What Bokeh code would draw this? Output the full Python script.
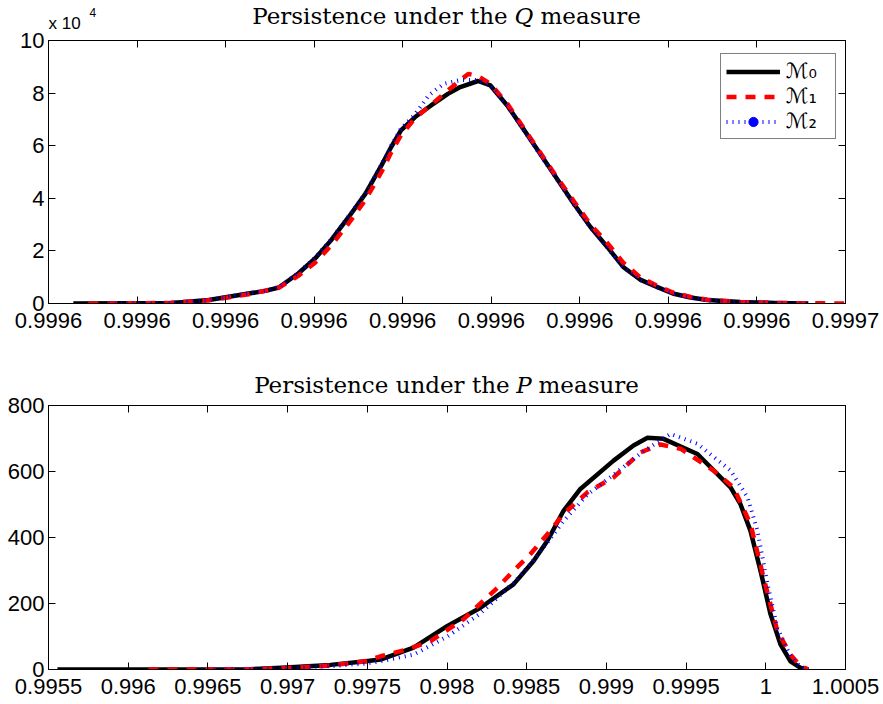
from bokeh.plotting import figure
from bokeh.models import (Range1d, FixedTicker, LinearAxis, Legend,
                          LegendItem, ColumnDataSource)
from bokeh.core.properties import value
from bokeh.layouts import column
from bokeh.embed import file_html
from bokeh.resources import INLINE

# ---------------- data: persistence under Q (counts) ----------------
q_xticks = [0.99956, 0.99957, 0.99958, 0.99959, 0.9996, 0.99961, 0.99962,
            0.99963, 0.99964, 0.99965]
q_xlabels = ["0.9996"] * 9 + ["0.9997"]
q_yticks = [0, 20000, 40000, 60000, 80000, 100000]
q_ylabels = ["0", "2", "4", "6", "8", "10"]

q_m0_x = [0.9995628, 0.9995738, 0.999575, 0.9995781, 0.9995826, 0.9995845,
          0.999586, 0.9995882, 0.9995901, 0.9995919, 0.9995939, 0.9995958,
          0.9995976, 0.9995987, 0.9995998, 0.9996014, 0.9996032, 0.9996051,
          0.9996065, 0.9996085, 0.9996099, 0.9996118, 0.9996136, 0.9996155,
          0.9996174, 0.9996193, 0.9996212, 0.9996231, 0.9996249, 0.9996268,
          0.9996287, 0.9996305, 0.9996325, 0.9996344, 0.9996381, 0.999642,
          0.9996458]
q_m0_y = [0, 150, 500, 1300, 3800, 4800, 6100, 11400, 17100, 24000, 32900,
          41800, 52500, 59500, 65800, 70900, 75300, 79700, 82300, 84600,
          82900, 75300, 66500, 57000, 47500, 38000, 29100, 21500, 13900,
          9100, 6300, 3800, 2300, 1300, 600, 200, 0]

q_m1_x = [0.9995645, 0.9995738, 0.9995781, 0.9995826, 0.999586, 0.9995882,
          0.9995901, 0.9995919, 0.9995939, 0.9995958, 0.9995976, 0.9995987,
          0.9995998, 0.9996014, 0.9996032, 0.9996051, 0.9996074, 0.9996085,
          0.9996099, 0.9996118, 0.9996136, 0.9996155, 0.9996174, 0.9996193,
          0.9996212, 0.9996231, 0.9996249, 0.9996268, 0.9996287, 0.9996305,
          0.9996325, 0.9996344, 0.9996381, 0.999642, 0.99965]
q_m1_y = [0, 200, 1200, 3500, 6000, 10500, 15500, 22000, 30500, 39500,
          50000, 57500, 64000, 70500, 75500, 81000, 87300, 86500, 83500,
          76000, 67000, 57500, 48000, 39000, 30000, 23000, 15500, 10000,
          6800, 4200, 2500, 1400, 600, 200, 0]

q_m2_x = [0.9995668, 0.9995738, 0.9995781, 0.9995826, 0.9995845, 0.999586,
          0.9995882, 0.9995901, 0.9995919, 0.9995939, 0.9995958, 0.9995976,
          0.9995987, 0.9995998, 0.9996014, 0.9996029, 0.9996046, 0.9996065,
          0.9996085, 0.9996099, 0.9996118, 0.9996136, 0.9996155, 0.9996174,
          0.9996193, 0.9996212, 0.9996231, 0.9996249, 0.9996268, 0.9996287,
          0.9996305, 0.9996325, 0.9996344, 0.9996381, 0.999642, 0.9996458]
q_m2_y = [0, 200, 1300, 3900, 4900, 6200, 11600, 17400, 24300, 33200, 42000,
          52800, 60000, 66500, 72000, 79000, 83500, 85000, 85000, 83000,
          75300, 66300, 56700, 47200, 37700, 28900, 21300, 13800, 9000,
          6200, 3700, 2200, 1200, 500, 200, 0]

# ---------------- data: persistence under P (counts) ----------------
p_xticks = [0.9955, 0.996, 0.9965, 0.997, 0.9975, 0.998, 0.9985, 0.999,
            0.9995, 1.0, 1.0005]
p_xlabels = ["0.9955", "0.996", "0.9965", "0.997", "0.9975", "0.998",
             "0.9985", "0.999", "0.9995", "1", "1.0005"]
p_yticks = [0, 200, 400, 600, 800]
p_ylabels = ["0", "200", "400", "600", "800"]

p_m0_x = [0.995556, 0.99614, 0.99645, 0.996767, 0.996962, 0.997269,
          0.997489, 0.997583, 0.99779, 0.998003, 0.99821, 0.998417, 0.998543,
          0.99863, 0.998731, 0.998837, 0.999045, 0.99917, 0.999258, 0.999358,
          0.999571, 0.999779, 0.999841, 0.999904, 0.999967, 1.00003,
          1.000092, 1.000155, 1.000218, 1.000268]
p_m0_y = [0, 0, 0, 1, 5, 14, 25, 30, 66, 132, 187, 258, 329, 390, 481, 547,
          633, 679, 702, 699, 653, 552, 501, 420, 299, 167, 76, 25, 5, 0]

p_m1_x = [0.996127, 0.996767, 0.996962, 0.997269, 0.997489, 0.997583,
          0.997758, 0.997897, 0.998103, 0.998317, 0.998417, 0.998524,
          0.99863, 0.998731, 0.998881, 0.999045, 0.999214, 0.999339,
          0.999465, 0.999672, 0.999797, 0.999904, 0.999986, 1.000073,
          1.000155, 1.000218, 1.000268]
p_m1_y = [0, 1, 4, 12, 25, 40, 62, 86, 152, 248, 299, 350, 410, 471, 537,
          582, 658, 682, 669, 603, 552, 441, 278, 116, 45, 10, 0]

p_m2_x = [0.99646, 0.996962, 0.997269, 0.997489, 0.997583, 0.99779,
          0.998003, 0.99821, 0.998417, 0.998524, 0.99863, 0.998731, 0.998881,
          0.999045, 0.999214, 0.999402, 0.999571, 0.999779, 0.999885,
          0.999948, 1.00001, 1.000073, 1.000155, 1.000218, 1.000268]
p_m2_y = [0, 3, 10, 18, 25, 45, 100, 170, 262, 320, 385, 450, 530, 590, 655,
          714, 684, 603, 522, 420, 260, 125, 40, 8, 0]

legend_labels = ["\u2133\u2080", "\u2133\u2081", "\u2133\u2082"]
title_left = "Persistence under the"
title_right = "measure"
q_letter = "Q"
p_letter = "P"
exp_base = "x 10"
exp_power = "4"

TICK_FONT = "Liberation Sans"
TICK_SIZE = "22px"
TITLE_FONT = "DejaVu Serif"
TITLE_PX = 23
FRAME_W = 797
B_LEFT = 48
B_RIGHT = 36
TOTAL_W = B_LEFT + FRAME_W + B_RIGHT   # 881
B_TOP = 8


def style_axis(ax, ticks, labels, show_labels, standoff=5):
    ax.ticker = FixedTicker(ticks=ticks, minor_ticks=[])
    ax.major_label_overrides = dict(zip(ticks, labels))
    ax.major_tick_in = 7
    ax.major_tick_out = 0
    ax.minor_tick_line_color = None
    ax.axis_line_color = "black"
    ax.axis_line_width = 1
    ax.major_tick_line_color = "black"
    ax.major_tick_line_width = 1
    ax.major_label_text_font = TICK_FONT
    if show_labels:
        ax.major_label_text_color = "black"
        ax.major_label_text_font_size = TICK_SIZE
        ax.major_label_standoff = standoff
    else:
        ax.major_label_text_color = None
        ax.major_label_text_font_size = "1px"
        ax.major_label_standoff = 0


def make_fig(frame_h, b_bottom, xr, yr, xt, xl, yt, yl):
    p = figure(width=TOTAL_W, height=B_TOP + frame_h + b_bottom, title=None,
               min_border_left=B_LEFT, min_border_right=B_RIGHT,
               min_border_top=B_TOP, min_border_bottom=b_bottom,
               x_range=Range1d(*xr), y_range=Range1d(*yr),
               x_axis_type=None, y_axis_type=None,
               output_backend="svg", toolbar_location=None)
    p.background_fill_color = "white"
    p.border_fill_color = "white"
    p.outline_line_color = "black"
    for side, ticks, labels, show, so in (("below", xt, xl, True, 9),
                                          ("above", xt, xl, False, 0)):
        ax = LinearAxis()
        style_axis(ax, ticks, labels, show, so)
        p.add_layout(ax, side)
    for side, ticks, labels, show, so in (("left", yt, yl, True, 4),
                                          ("right", yt, yl, False, 0)):
        ax = LinearAxis()
        style_axis(ax, ticks, labels, show, so)
        p.add_layout(ax, side)
    return p


def make_strip(height):
    s = figure(width=TOTAL_W, height=height, title=None,
               min_border_left=B_LEFT, min_border_right=B_RIGHT,
               min_border_top=0, min_border_bottom=0,
               x_range=Range1d(0, FRAME_W), y_range=Range1d(0, height),
               x_axis_type=None, y_axis_type=None,
               output_backend="svg", toolbar_location=None)
    s.outline_line_color = None
    s.background_fill_color = "white"
    s.border_fill_color = "white"
    s.grid.visible = False
    return s


def add_title(s, ypos, letter, letter_em):
    px = TITLE_PX
    cx = FRAME_W / 2 + 3.35 * px
    half = letter_em * px / 2
    sp = 0.32 * px
    common = dict(text_font=value(TITLE_FONT), text_font_size=f"{px}px",
                  text_baseline="alphabetic", text_color="black")
    s.text(x=[cx - half - sp], y=[ypos], text=[title_left],
           text_align="right", **common)
    s.text(x=[cx], y=[ypos], text=[letter], text_align="center",
           text_font_style="italic", **common)
    s.text(x=[cx + half + sp], y=[ypos], text=[title_right],
           text_align="left", **common)


def add_lines(p, m0, m1, m2):
    r0 = p.line(x="x", y="y", source=ColumnDataSource(dict(x=m0[0], y=m0[1])),
                line_color="black", line_width=4.5, line_join="round")
    r1 = p.line(x="x", y="y", source=ColumnDataSource(dict(x=m1[0], y=m1[1])),
                line_color="red", line_width=4.5, line_dash="10 9")
    r2 = p.line(x="x", y="y", source=ColumnDataSource(dict(x=m2[0], y=m2[1])),
                line_color="blue", line_width=4, line_dash="1 5")
    return r0, r1, r2


# ---------------- title strip 1 (page y 0..32) ----------------
s1 = make_strip(32)
add_title(s1, 17, q_letter, 0.79)
s1.text(x=[0], y=[9], text=[exp_base], text_font=value(TICK_FONT),
        text_font_size="17px", text_baseline="alphabetic", text_color="black")
s1.text(x=[41], y=[20], text=[exp_power], text_font=value(TICK_FONT),
        text_font_size="12px", text_baseline="alphabetic", text_color="black")

# ---------------- top panel (frame page y 40..303) ----------------
TOP_H = 263
p1 = make_fig(TOP_H, 36, (0.99956, 0.99965), (0, 100000),
              q_xticks, q_xlabels, q_yticks, q_ylabels)
r0, r1, r2 = add_lines(p1, (q_m0_x, q_m0_y), (q_m1_x, q_m1_y),
                       (q_m2_x, q_m2_y))
dot = p1.scatter(x="x", y="y",
                 source=ColumnDataSource(dict(x=[float("nan")],
                                              y=[float("nan")])),
                 marker="circle", size=6, fill_color="blue",
                 line_color="blue")
legend = Legend(items=[LegendItem(label=legend_labels[0], renderers=[r0]),
                       LegendItem(label=legend_labels[1], renderers=[r1]),
                       LegendItem(label=legend_labels[2], renderers=[r2, dot])],
                location=(672, 164))
legend.margin = 0
legend.padding = 5
legend.spacing = 1
legend.glyph_width = 54
legend.glyph_height = 23
legend.label_height = 23
legend.label_width = 44
legend.label_standoff = 6
legend.label_text_font = "DejaVu Sans"
legend.label_text_font_size = "21px"
legend.label_text_color = "black"
legend.label_text_baseline = "middle"
legend.border_line_color = "black"
legend.border_line_width = 1
legend.background_fill_color = "white"
legend.background_fill_alpha = 1
p1.add_layout(legend)

# ---------------- title strip 2 (page y 339..397) ----------------
s2 = make_strip(58)
add_title(s2, 13, p_letter, 0.62)

# ---------------- bottom panel (frame page y 405..669) ----------------
BOT_H = 264
p2 = make_fig(BOT_H, 34, (0.9955, 1.0005), (0, 800),
              p_xticks, p_xlabels, p_yticks, p_ylabels)
add_lines(p2, (p_m0_x, p_m0_y), (p_m1_x, p_m1_y), (p_m2_x, p_m2_y))

layout = column(s1, p1, s2, p2, spacing=0)
open("out.html", "w").write(file_html(layout, INLINE))
